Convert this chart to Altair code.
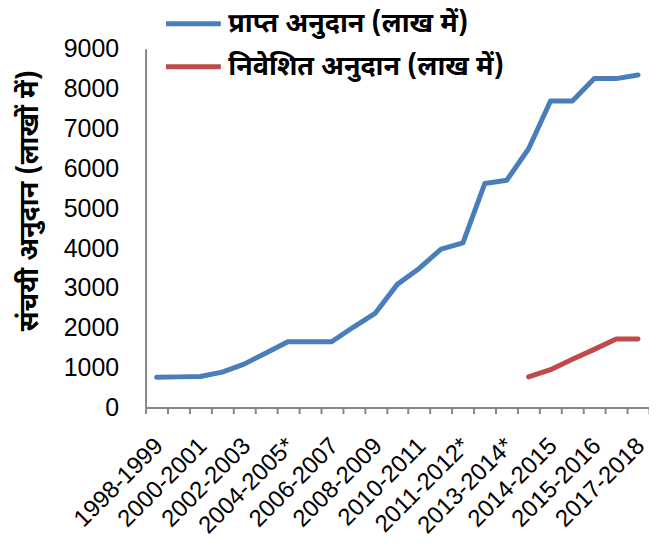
import json
import altair as alt
import pandas as pd

categories = [
    "1998-1999", "1999-2000", "2000-2001", "2001-2002", "2002-2003", "2003-2004",
    "2004-2005*", "2005-2006", "2006-2007", "2007-2008", "2008-2009", "2009-2010",
    "2010-2011", "2011-2012", "2011-2012*", "2012-2013", "2013-2014*", "2013-2014",
    "2014-2015", "2014-2015*", "2015-2016", "2016-2017", "2017-2018",
]
received = [760, 770, 780, 890, 1090, 1370, 1650, 1650, 1650, 2020, 2370, 3090,
            3490, 3975, 4130, 5620, 5700, 6490, 7690, 7690, 8250, 8250, 8340]
invested = [None] * 17 + [770, 950, 1210, 1460, 1720, 1720]

s1 = "प्राप्त अनुदान (लाख में)"
s2 = "निवेशित अनुदान (लाख में)"
y_title = "संचयी अनुदान (लाखों में)"

rows = []
for i, c in enumerate(categories):
    rows.append({"idx": i, "cat": c, "series": s1, "value": received[i]})
    if invested[i] is not None:
        rows.append({"idx": i, "cat": c, "series": s2, "value": invested[i]})
df = pd.DataFrame(rows)

n = len(categories)
even_labels = [categories[i] for i in range(0, n, 2)]
tick_values = [i * 0.5 - 0.5 for i in range(2 * n + 1)]
label_expr = (
    "(datum.value >= 0 && datum.value % 2 == 0) ? "
    + json.dumps(even_labels, ensure_ascii=False)
    + "[datum.value / 2] : ''"
)

FONT = "Liberation Sans, Arial, sans-serif"
DEVA = "Noto Sans Devanagari, Lohit Devanagari, FreeSans, Noto Sans, sans-serif"
AX = "#868686"

chart = (
    alt.Chart(df)
    .mark_line(strokeWidth=5, strokeCap="round", strokeJoin="round")
    .encode(
        x=alt.X(
            "idx:Q",
            scale=alt.Scale(domain=[-0.5, n - 0.5], nice=False, zero=False),
            axis=alt.Axis(
                values=tick_values,
                labelExpr=label_expr,
                labelAngle=-45,
                labelAlign="right",
                labelBaseline="top",
                labelFont=FONT,
                labelFontSize=24,
                labelColor="#000000",
                labelOverlap=False,
                labelFlush=False,
                labelBound=False,
                labelPadding=20,
                labelOffset=-6,
                tickSize=6,
                tickWidth=2,
                tickColor=AX,
                tickOpacity={"condition": {"test": "datum.value % 1 != 0", "value": 1}, "value": 0},
                domainColor=AX,
                domainWidth=2,
                grid=False,
                title=None,
            ),
        ),
        y=alt.Y(
            "value:Q",
            scale=alt.Scale(domain=[0, 9000], nice=False),
            axis=alt.Axis(
                values=list(range(0, 9001, 1000)),
                format="d",
                labelFont=FONT,
                labelFontSize=25,
                labelColor="#000000",
                labelPadding=27,
                ticks=False,
                domainColor=AX,
                domainWidth=2,
                grid=False,
                title=y_title,
                titleFont=DEVA,
                titleFontSize=27,
                titleFontWeight="bold",
                titleColor="#000000",
                titleX=-116,
                titleY=152,
                titleAngle=-90,
                titleAlign="center",
                titleBaseline="middle",
            ),
        ),
        color=alt.Color(
            "series:N",
            scale=alt.Scale(domain=[s1, s2], range=["#4A7EBB", "#BE4B48"]),
            legend=alt.Legend(
                title=None,
                orient="none",
                legendX=18,
                legendY=-55,
                symbolType="stroke",
                symbolSize=3025,
                symbolStrokeWidth=5,
                labelFont=DEVA,
                labelFontSize=27,
                labelFontWeight="bold",
                labelColor="#000000",
                labelOffset=5,
                rowPadding=-23,
                labelLimit=400,
            ),
        ),
        detail="series:N",
    )
    .properties(
        width=505,
        height=360,
        autosize=alt.AutoSizeParams(type="none"),
        padding={"left": 138, "top": 40, "right": 0, "bottom": 130},
    )
    .configure_view(stroke=None)
)

chart.save("out.html", embed_options={"renderer": "svg", "actions": False})
